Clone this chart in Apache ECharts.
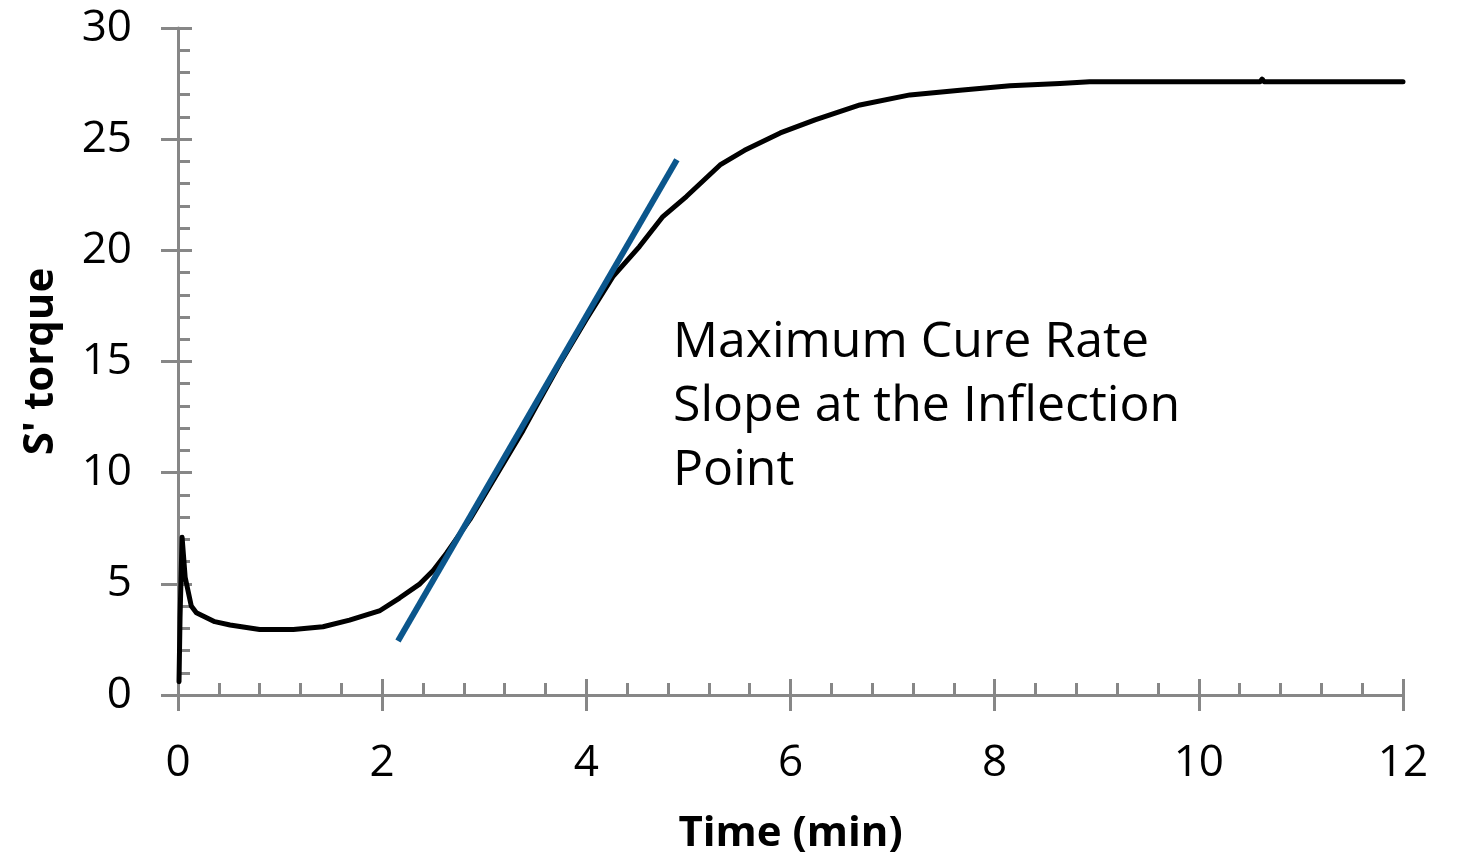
<!DOCTYPE html>
<html>
<head>
<meta charset="utf-8">
<script src="https://cdn.jsdelivr.net/npm/echarts@6/dist/echarts.min.js"></script>
<style>
  html, body { margin: 0; padding: 0; background: #fff; }
  #chart { width: 1458px; height: 857px; }
</style>
</head>
<body>
<div id="chart"></div>
<script>
// cure curve, time (min) vs S' torque
const curveTime = [0.01, 0.02, 0.04, 0.07, 0.13, 0.18, 0.36, 0.51, 0.80, 1.13, 1.42, 1.68, 1.98,
  2.17, 2.37, 2.5, 2.63, 2.86, 3.12, 3.38, 3.51, 3.74, 4.0, 4.26, 4.52, 4.75, 4.98, 5.31,
  5.55, 5.9, 6.24, 6.68, 7.17, 7.66, 8.15, 8.64, 8.93, 10.6, 10.62, 10.64, 12.0];
const curveTorque = [0.6, 3.5, 7.1, 5.3, 4.0, 3.7, 3.3, 3.15, 2.95, 2.95, 3.07, 3.37, 3.8,
  4.36, 5.0, 5.6, 6.38, 7.9, 9.9, 11.9, 13.0, 14.9, 16.9, 18.82, 20.17, 21.52, 22.42, 23.84,
  24.5, 25.28, 25.87, 26.54, 26.99, 27.2, 27.4, 27.5, 27.58, 27.58, 27.7, 27.58, 27.58];

// tangent at the inflection point
const slopeTime = [2.155, 4.887];
const slopeTorque = [2.43, 24.07];

const noteLines = ['Maximum Cure Rate', 'Slope at the Inflection', 'Point'];

const font = '"Open Sans", "DejaVu Sans", sans-serif';
const axisGrey = '#878787';

const chart = echarts.init(document.getElementById('chart'));

const xBase = { type: 'value', min: 0, max: 12, interval: 2, position: 'bottom' };
const yBase = { type: 'value', min: 0, max: 30, interval: 5, position: 'left' };

chart.setOption({
  animation: false,
  grid: { left: 178, right: 55, top: 28, bottom: 162, outerBoundsMode: 'none', containLabel: false },
  xAxis: [
    Object.assign({}, xBase, {
      name: 'Time (min)',
      nameLocation: 'middle',
      nameGap: 118,
      nameTextStyle: { fontFamily: font, fontSize: 42, fontWeight: 'bold', color: '#000' },
      axisLine: { onZero: false, lineStyle: { color: axisGrey, width: 3 } },
      axisTick: { inside: false, length: 16, lineStyle: { color: axisGrey, width: 3 } },
      axisLabel: { margin: 46, fontFamily: font, fontSize: 44, color: '#000' },
      splitLine: { show: false }
    }),
    Object.assign({}, xBase, {
      axisLine: { show: false, onZero: false },
      axisTick: { inside: true, length: 16, lineStyle: { color: axisGrey, width: 3 } },
      minorTick: { show: true, splitNumber: 5, length: 12, lineStyle: { color: axisGrey, width: 3 } },
      axisLabel: { show: false },
      splitLine: { show: false }
    })
  ],
  yAxis: [
    Object.assign({}, yBase, {
      name: "S' torque",
      nameLocation: 'middle',
      nameGap: 116,
      nameTextStyle: { fontFamily: font, fontSize: 42, fontWeight: 'bold', color: '#000' },
      axisLine: { show: true, onZero: false, lineStyle: { color: axisGrey, width: 3 } },
      axisTick: { show: true, inside: false, length: 17, lineStyle: { color: axisGrey, width: 3 } },
      axisLabel: { margin: 46, fontFamily: font, fontSize: 44, color: '#000' },
      splitLine: { show: false }
    }),
    Object.assign({}, yBase, {
      axisLine: { show: false, onZero: false },
      axisTick: { show: true, inside: true, length: 14, lineStyle: { color: axisGrey, width: 3 } },
      minorTick: { show: true, splitNumber: 5, length: 12, lineStyle: { color: axisGrey, width: 3 } },
      axisLabel: { show: false },
      splitLine: { show: false }
    })
  ],
  series: [
    {
      type: 'line',
      data: curveTime.map((t, i) => [t, curveTorque[i]]),
      showSymbol: false,
      symbol: 'none',
      lineStyle: { color: '#000', width: 5, cap: 'round', join: 'round' },
      z: 2
    },
    {
      type: 'line',
      data: slopeTime.map((t, i) => [t, slopeTorque[i]]),
      showSymbol: false,
      symbol: 'none',
      lineStyle: { color: '#0b568c', width: 6 },
      z: 3
    }
  ],
  graphic: [{
    type: 'text',
    left: 673,
    top: 311,
    style: {
      text: noteLines.join('\n'),
      font: '50px ' + font,
      lineHeight: 64,
      fill: '#000'
    }
  }]
});
</script>
</body>
</html>
